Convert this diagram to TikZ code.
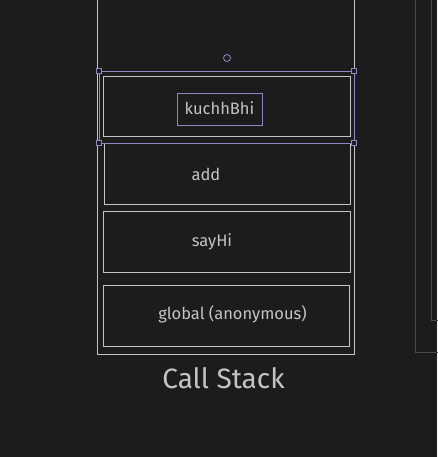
\documentclass[tikz,border=0pt]{standalone}
\usepackage{fontspec}
\setmainfont{Fira Sans}
\definecolor{bg}{HTML}{1C1C1C}
\definecolor{ln}{HTML}{C4C4C4}
\definecolor{sel}{HTML}{8A8AC4}
\definecolor{dim}{HTML}{4A4A4A}
\begin{document}
\begin{tikzpicture}[x=1pt,y=-1pt,
  frame/.style={draw=ln,line width=1pt},
  label/.style={text=ln,font=\fontsize{16.5}{18}\selectfont,inner sep=0pt},
  handle/.style={draw=sel,fill=bg,line width=0.8pt,minimum size=5pt,inner sep=0pt,rectangle}]
\fill[bg] (0,0) rectangle (437,457);
\useasboundingbox (0,0) rectangle (437,457);
% outer stack
\draw[frame] (97,-2) -- (97,354) -- (354,354) -- (354,-2);
% right side frames
\draw[dim,line width=1pt] (415,-2) -- (415,352) -- (439,352);
\draw[dim,line width=1pt] (431,-2) -- (431,320) -- (439,320);
% small circle
\draw[sel,line width=0.8pt] (227,58) circle (3.5);
% frames
\node[frame,minimum width=247pt,minimum height=60pt,inner sep=0pt] (kb) at (226.5,107) {};
\node[frame,minimum width=246pt,minimum height=60pt,inner sep=0pt] (add) at (227,174) {};
\node[frame,minimum width=247pt,minimum height=61pt,inner sep=0pt] (say) at (226.5,241.5) {};
\node[frame,minimum width=246pt,minimum height=61pt,inner sep=0pt] (glob) at (226,315.5) {};
% labels
\node[label] (kbt) at (219.5,108) {kuchhBhi};
\node[label] (addt) at (206,174) {add};
\node[label] (sayt) at (212,242) {sayHi};
\node[label] (globt) at (232.5,314) {global (anonymous)};
\node[text=ln,font=\fontsize{28}{32}\selectfont,inner sep=0pt] (cs) at (223.5,378) {Call Stack};
% selection
\draw[sel,line width=0.9pt] (177,93) rectangle (262,125);
\draw[sel,line width=0.9pt] (99,71) rectangle (354,143);
\node[handle] (h1) at (99,71) {};
\node[handle] (h2) at (354,71) {};
\node[handle] (h3) at (99,143) {};
\node[handle] (h4) at (354,143) {};
\end{tikzpicture}
\end{document}
